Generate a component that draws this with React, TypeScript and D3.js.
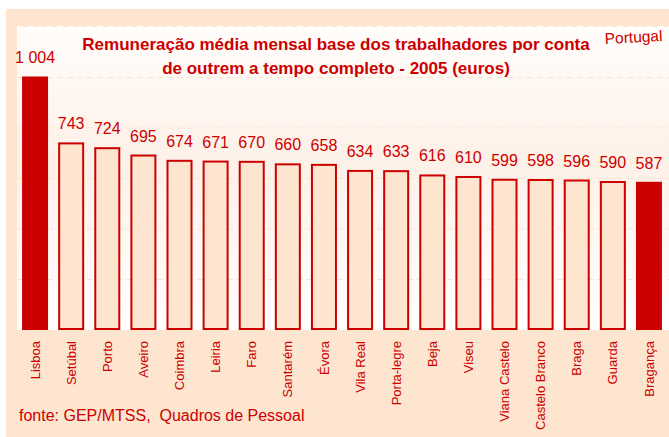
import React from "react";
import * as d3 from "d3";

const categories = [
  "Lisboa", "Setúbal", "Porto", "Aveiro", "Coimbra", "Leiria", "Faro", "Santarém", "Évora",
  "Vila Real", "Porta-legre", "Beja", "Viseu", "Viana Castelo", "Castelo Branco", "Braga", "Guarda", "Bragança",
];
const values = [1004, 743, 724, 695, 674, 671, 670, 660, 658, 634, 633, 616, 610, 599, 598, 596, 590, 587];
const valueLabels = ["1 004", "743", "724", "695", "674", "671", "670", "660", "658", "634", "633", "616", "610", "599", "598", "596", "590", "587"];
const highlighted = ["Lisboa", "Bragança"];
const gridTicks = [200, 400, 600, 800, 1000, 1200];
const titleLines = [
  "Remuneração média mensal base dos trabalhadores por conta",
  "de outrem a tempo completo - 2005 (euros)",
];
const cornerLabel = "Portugal";
const sourceNote = "fonte: GEP/MTSS,  Quadros de Pessoal";

const W = 669;
const H = 437;
const RED = "#cc0000";
const PEACH = "#fde5d0";
const FONT = "'Liberation Sans', Arial, sans-serif";

export default function App() {
  const plot = { left: 17, right: 669, top: 27, bottom: 330 };
  const x = d3.scaleBand<string>().domain(categories).range([17, 667]).paddingInner(0.28).paddingOuter(0.14);
  const y = d3.scaleLinear().domain([0, 1200]).range([plot.bottom, plot.top]);
  const bw = x.bandwidth();

  return (
    <svg width={W} height={H} style={{ position: "absolute", left: 0, top: 0, background: "#fff" }} fontFamily={FONT}>
      <defs>
        <linearGradient id="bg" x1="0" y1="0" x2="0" y2="1">
          <stop offset="0" stopColor="#fffdfb" />
          <stop offset="0.45" stopColor="#fdf1e8" />
          <stop offset="1" stopColor="#ffffff" />
        </linearGradient>
      </defs>
      <rect x={6} y={9} width={W - 6} height={H - 9} fill={PEACH} />
      <rect x={plot.left} y={plot.top} width={plot.right - plot.left} height={plot.bottom - plot.top} fill="url(#bg)" />
      {gridTicks.map((t) => (
        <line
          key={t}
          x1={plot.left}
          x2={plot.right}
          y1={y(t)}
          y2={y(t)}
          stroke={t === 1200 ? "#ffffff" : "#fbe3d0"}
          strokeWidth={t === 1200 ? 1.5 : 1}
          strokeDasharray="6,4"
        />
      ))}
      {categories.map((c, i) => {
        const hl = highlighted.includes(c);
        const x0 = x(c)!;
        const top = y(values[i]);
        return (
          <g key={c}>
            {hl ? (
              <rect x={x0} y={top} width={bw} height={plot.bottom - top} fill={RED} />
            ) : (
              <rect x={x0 + 1} y={top + 1} width={bw - 2} height={plot.bottom - top - 2} fill={PEACH} stroke={RED} strokeWidth={2} />
            )}
            <text x={x0 + bw / 2} y={top - 13} textAnchor="middle" fontSize={16} fill={RED}>
              {valueLabels[i]}
            </text>
            <text
              transform={`translate(${x0 + bw / 2},${plot.bottom + 11}) rotate(-90)`}
              textAnchor="end"
              dy="0.35em"
              fontSize={13}
              fill={RED}
            >
              {c}
            </text>
          </g>
        );
      })}
      {titleLines.map((l, i) => (
        <text key={i} x={336} y={50 + i * 24} textAnchor="middle" fontSize={17} fontWeight="bold" fill={RED}>
          {l}
        </text>
      ))}
      <text transform="translate(605,44) rotate(-3)" fontSize={15.5} fill={RED}>
        {cornerLabel}
      </text>
      <text x={19} y={421} fontSize={16} fill={RED} style={{ whiteSpace: "pre" }}>
        {sourceNote}
      </text>
    </svg>
  );
}
